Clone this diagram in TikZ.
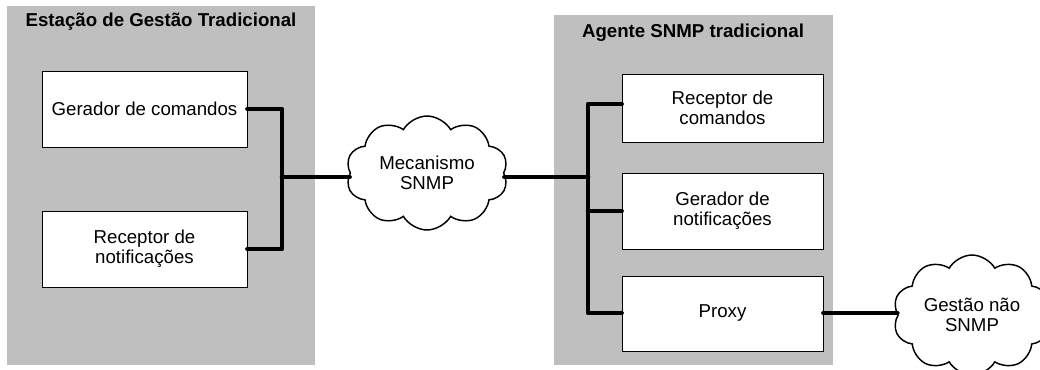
\documentclass[tikz,border=0pt]{standalone}
\usepackage{fontspec}
\setmainfont{Liberation Sans}
\usetikzlibrary{shapes.symbols}
\begin{document}
\begin{tikzpicture}[x=0.75pt,y=-0.75pt,
  panel/.style={fill=black!25,draw=none},
  unit/.style={draw=black,fill=white,line width=0.7pt,align=center,font=\fontsize{14}{15}\selectfont},
  link/.style={line width=3.5pt,line cap=round,line join=round},
  net/.style={cloud,cloud puffs=10,cloud puff arc=120,cloud ignores aspect,draw=black,fill=white,line width=1.1pt,align=center,font=\fontsize{14}{15}\selectfont,inner sep=0pt},
  title/.style={font=\bfseries\fontsize{14}{16}\selectfont}]
\useasboundingbox (0,0) rectangle (1040,369);
\fill[panel] (7,6) rectangle (315,365);
\fill[panel] (554,15) rectangle (833,365);
\node[title] (t1) at (161,22) {Estação de Gestão Tradicional};
\node[title] (t2) at (693,33) {Agente SNMP tradicional};
\node[unit,minimum width=205*0.75pt,minimum height=76*0.75pt] (gc) at (144.5,109) {Gerador de comandos};
\node[unit,minimum width=205*0.75pt,minimum height=76*0.75pt] (rn) at (144.5,249) {Receptor de\\notificações};
\node[unit,minimum width=201*0.75pt,minimum height=68*0.75pt] (rc) at (722.5,108) {Receptor de\\comandos};
\node[unit,minimum width=201*0.75pt,minimum height=76*0.75pt] (gn) at (722.5,211) {Gerador de\\notificações};
\node[unit,minimum width=201*0.75pt,minimum height=75*0.75pt] (px) at (722.5,313.5) {Proxy};
\node[net,minimum width=162*0.75pt,minimum height=114*0.75pt] (ms) at (427,173) {Mecanismo\\SNMP};
\node[net,minimum width=158*0.75pt,minimum height=120*0.75pt] (gs) at (972,315) {Gestão não\\SNMP};
\coordinate (lj) at (282,177);
\coordinate (rj) at (588,177);
\draw[link] (gc.east |- 0,109) -| (lj |- 0,109) -- (lj |- 0,249) -- (rn.east |- 0,249);
\draw[link] (lj) -- (ms.west |- lj);
\draw[link] (ms.east |- rj) -- (rj);
\draw[link] (rc.west |- 0,104) -| (rj |- 0,104) -- (rj |- 0,313) -- (px.west |- 0,313);
\draw[link] (rj |- 0,211) -- (gn.west |- 0,211);
\draw[link] (px.east |- 0,313) -- (gs.west |- 0,313);
\end{tikzpicture}
\end{document}
